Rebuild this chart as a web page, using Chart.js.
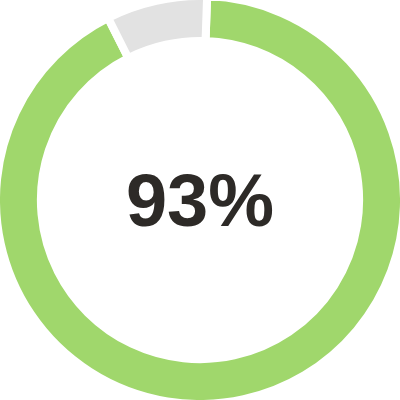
<!DOCTYPE html>
<html>
<head>
<meta charset="utf-8">
<script src="https://cdn.jsdelivr.net/npm/chart.js@4"></script>
<style>
  html, body { margin: 0; padding: 0; background: #fff; }
  #wrap { width: 400px; height: 400px; }
</style>
</head>
<body>
<div id="wrap"><canvas id="myDoughnut"></canvas></div>
<script>
var labels = ["Done", "Remaining"];
var values = [92, 8];
var colours = ["#a0d76c", "#e2e2e2"];
var centreText = "93%";

// draws the percentage in the hole, baseline a bit under the centre
var centreLabel = {
	id: "centreLabel",
	afterDraw: function(chart) {
		var ctx = chart.ctx;
		var area = chart.chartArea;
		ctx.save();
		ctx.font = "bold 74px 'Liberation Sans', Arial, sans-serif";
		ctx.fillStyle = "#2d2a27";
		ctx.textAlign = "center";
		ctx.textBaseline = "alphabetic";
		ctx.fillText(centreText, (area.left + area.right) / 2, (area.top + area.bottom) / 2 + 26);
		ctx.restore();
	}
};

var ctx = document.getElementById("myDoughnut").getContext("2d");
var myDoughnut = new Chart(ctx, {
	type: "doughnut",
	data: {
		labels: labels,
		datasets: [{
			data: values,
			backgroundColor: colours,
			borderColor: "#ffffff",
			borderWidth: 8,
			hoverOffset: 0
		}]
	},
	options: {
		responsive: true,
		maintainAspectRatio: false,
		animation: false,
		rotation: 2,
		radius: 204,
		cutout: "78%",
		plugins: {
			legend: { display: false },
			tooltip: { enabled: false }
		}
	},
	plugins: [centreLabel]
});
</script>
</body>
</html>
